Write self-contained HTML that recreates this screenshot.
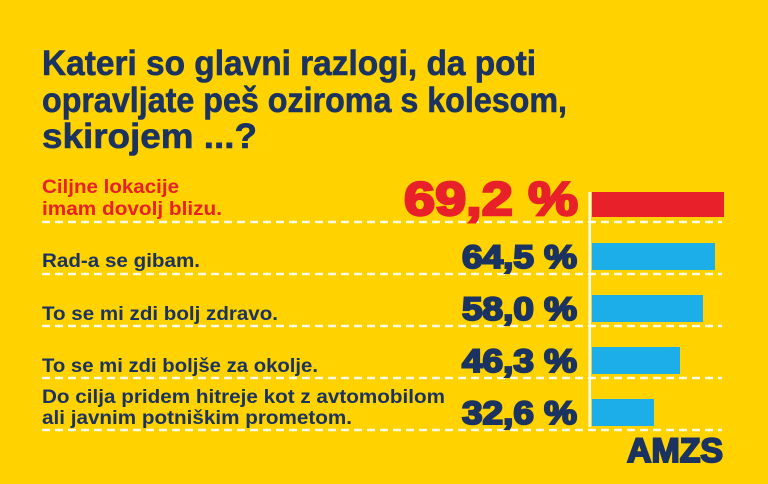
<!DOCTYPE html>
<html><head><meta charset="utf-8"><style>
html,body{margin:0;padding:0;background:#FFD200;}
svg{display:block}
text{font-family:"Liberation Sans",sans-serif;font-weight:bold}
</style></head><body>
<svg width="768" height="484" viewBox="0 0 768 484" xmlns="http://www.w3.org/2000/svg">
<rect width="768" height="484" fill="#FFD200"/>
<g fill="#1B3360" stroke="#1B3360" stroke-width="0.6" font-size="35">
<text x="42" y="75" textLength="494" lengthAdjust="spacingAndGlyphs">Kateri so glavni razlogi, da poti</text>
<text x="42" y="112" textLength="525" lengthAdjust="spacingAndGlyphs">opravljate peš oziroma s kolesom,</text>
<text x="42" y="148" textLength="215" lengthAdjust="spacingAndGlyphs">skirojem ...?</text>
</g>
<g font-size="19.5">
<text x="42" y="193" fill="#E8202A" textLength="137" lengthAdjust="spacingAndGlyphs">Ciljne lokacije</text>
<text x="42" y="215" fill="#E8202A" textLength="180" lengthAdjust="spacingAndGlyphs">imam dovolj blizu.</text>
<g fill="#1B3360">
<text x="42" y="267" textLength="158" lengthAdjust="spacingAndGlyphs">Rad-a se gibam.</text>
<text x="42" y="320" textLength="236" lengthAdjust="spacingAndGlyphs">To se mi zdi bolj zdravo.</text>
<text x="42" y="372" textLength="276" lengthAdjust="spacingAndGlyphs">To se mi zdi boljše za okolje.</text>
<text x="42" y="403" textLength="403" lengthAdjust="spacingAndGlyphs">Do cilja pridem hitreje kot z avtomobilom</text>
<text x="42" y="424" textLength="310" lengthAdjust="spacingAndGlyphs">ali javnim potniškim prometom.</text>
</g></g>
<g stroke="#FFFFFF" stroke-width="2.5" stroke-dasharray="8,5" opacity="0.9">
<line x1="42" y1="222" x2="722" y2="222"/>
<line x1="42" y1="274" x2="722" y2="274"/>
<line x1="42" y1="326" x2="722" y2="326"/>
<line x1="42" y1="378" x2="722" y2="378"/>
<line x1="42" y1="430" x2="722" y2="430"/>
</g>
<rect x="592" y="192" width="132" height="25" fill="#E8202A"/>
<rect x="592" y="243" width="123" height="27" fill="#1CAEE8"/>
<rect x="592" y="295" width="111" height="27" fill="#1CAEE8"/>
<rect x="592" y="347" width="88" height="27" fill="#1CAEE8"/>
<rect x="592" y="399" width="62" height="27" fill="#1CAEE8"/>
<rect x="588.5" y="192" width="2.5" height="235" fill="#FFFFFF"/>
<text x="578" y="215" text-anchor="end" font-size="47" fill="#E8202A" stroke="#E8202A" stroke-width="2.5" textLength="174" lengthAdjust="spacingAndGlyphs">69,2 %</text>
<g fill="#1B3360" stroke="#1B3360" stroke-width="2" font-size="32" text-anchor="end">
<text x="577" y="268" textLength="115" lengthAdjust="spacingAndGlyphs">64,5 %</text>
<text x="577" y="320" textLength="115" lengthAdjust="spacingAndGlyphs">58,0 %</text>
<text x="577" y="372" textLength="115" lengthAdjust="spacingAndGlyphs">46,3 %</text>
<text x="577" y="424" textLength="115" lengthAdjust="spacingAndGlyphs">32,6 %</text>
</g>
<text x="627" y="462" font-size="34" fill="#1B3360" stroke="#1B3360" stroke-width="2" textLength="96" lengthAdjust="spacingAndGlyphs">AMZS</text>
</svg>
</body></html>
